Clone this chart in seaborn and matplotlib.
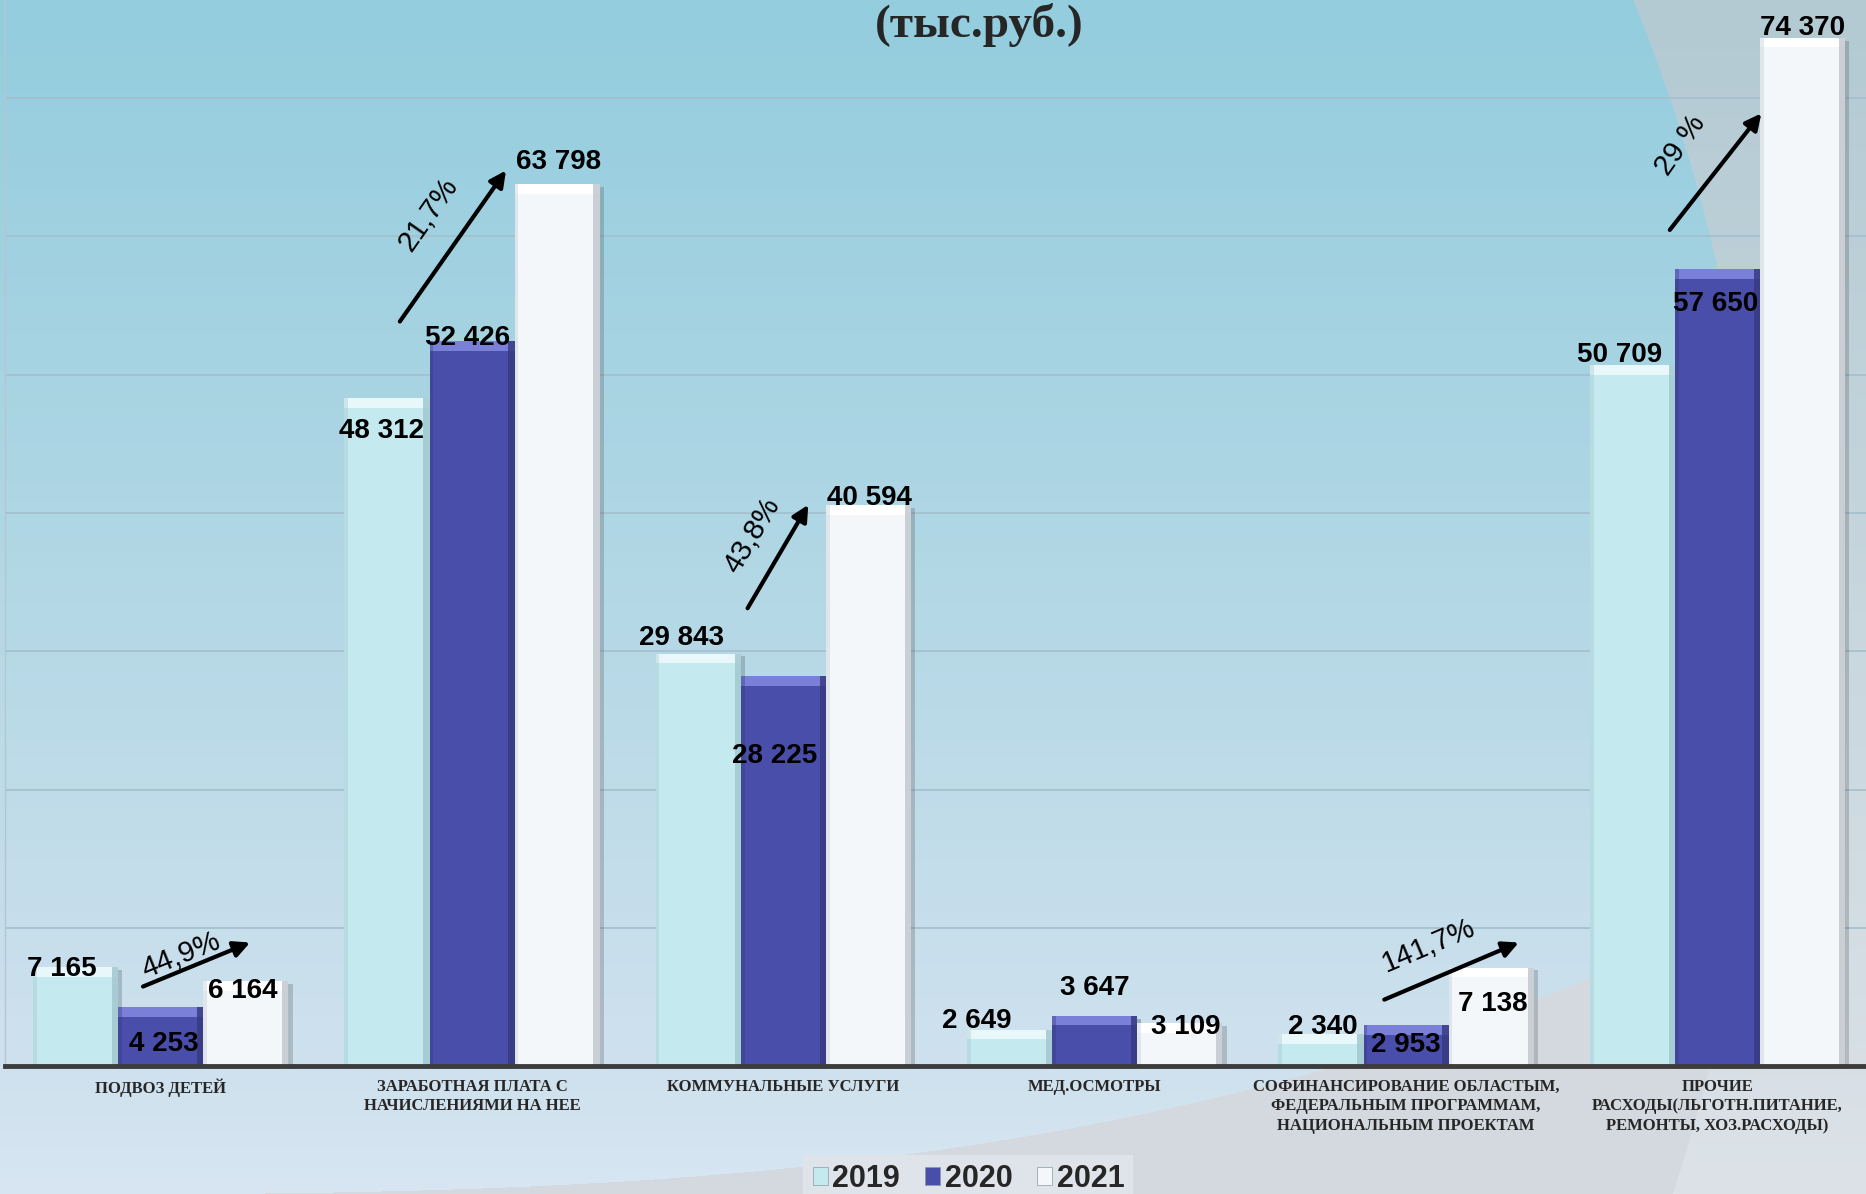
import numpy as np
import pandas as pd
import matplotlib
matplotlib.use('Agg')
import matplotlib.pyplot as plt
import matplotlib.patheffects as pe
from matplotlib.patches import Rectangle, Patch
from matplotlib.ticker import MultipleLocator
from matplotlib.font_manager import FontProperties
import seaborn as sns

# ---- data ----
categories = [
    'ПОДВОЗ ДЕТЕЙ',
    'ЗАРАБОТНАЯ ПЛАТА С\nНАЧИСЛЕНИЯМИ НА НЕЕ',
    'КОММУНАЛЬНЫЕ УСЛУГИ',
    'МЕД.ОСМОТРЫ',
    'СОФИНАНСИРОВАНИЕ ОБЛАСТЫМ,\nФЕДЕРАЛЬНЫМ ПРОГРАММАМ,\nНАЦИОНАЛЬНЫМ ПРОЕКТАМ',
    'ПРОЧИЕ\nРАСХОДЫ(ЛЬГОТН.ПИТАНИЕ,\nРЕМОНТЫ, ХОЗ.РАСХОДЫ)',
]
years = ['2019', '2020', '2021']
values_2019 = [7165, 48312, 29843, 2649, 2340, 50709]
values_2020 = [4253, 52426, 28225, 3647, 2953, 57650]
values_2021 = [6164, 63798, 40594, 3109, 7138, 74370]
growth_labels = ['44,9%', '21,7%', '43,8%', '141,7%', '29 %']

# ---- layout / style (not data) ----
colors = {'2019': '#C4E9EF', '2020': '#4A4EAB', '2021': '#F3F7FA'}
bevel_top = {'2019': '#E8F7F9', '2020': '#7A7FD8', '2021': '#FFFFFF'}
bevel_side = {'2019': '#9EC6CC', '2020': '#35387F', '2021': '#BFC6CC'}

# label centre offsets (points) from each bar top, per year
label_offsets = {
    '2019': [(-10, -1), (-4, -24), (-12, 11), (-24, 6), (1, 5), (-9, 7)],
    '2020': [(2, -26), (-3, 2), (-6, -58), (0, 20), (0, -14), (-1, -25)],
    '2021': [(-2, -7), (1, 16), (1, 5), (4, -3), (1, -26), (0, 7)],
}
# growth arrows: start, end, text position, text rotation
arrow_pos = [
    ((-0.057, 5763), (0.287, 8946), (0.065, 8000), 22),
    ((0.768, 53850), (1.109, 64774), (0.860, 61591), 55),
    ((1.885, 33118), (2.080, 40602), (1.900, 38366), 59),
    ((3.930, 4817), (4.362, 8946), (4.071, 8688), 23),
    ((4.847, 60473), (5.141, 68903), (4.881, 66581), 55),
]

df = pd.DataFrame({
    'category': categories * 3,
    'year': np.repeat(years, len(categories)),
    'value': values_2019 + values_2020 + values_2021,
})

sns.set_style('white')
plt.rcParams['font.family'] = ['Liberation Sans', 'DejaVu Sans']

W, H = 1866, 1194
fig = plt.figure(figsize=(W / 100, H / 100), dpi=100)

# ---- background ----
yy, xx = np.mgrid[0:H, 0:W].astype(float)
def vgrad(stops_y, stops_c):
    cols = np.array([matplotlib.colors.to_rgb(c) for c in stops_c])
    out = np.zeros((H, W, 3))
    for k in range(3):
        out[..., k] = np.interp(yy, stops_y, cols[:, k])
    return out

img = vgrad([0, 500, 1066, 1194], ['#93CDDE', '#AED6E4', '#CFE1EE', '#D7E6F2'])
right = vgrad([0, 1194], ['#B3CAD3', '#DCE2E8'])
swoosh = vgrad([0, 1194], ['#D3D9DF', '#D3D9DF'])
swoosh_mask = yy > 1194 - 194 * (xx / 1533) ** 3
arc_mask = ((xx - 33) ** 2 + (yy - 650) ** 2 > 1727 ** 2) & (xx > 1000)
img[swoosh_mask] = swoosh[swoosh_mask]
img[arc_mask] = right[arc_mask]

bg = fig.add_axes([0, 0, 1, 1])
bg.imshow(img, aspect='auto', extent=[0, 1, 0, 1], interpolation='bilinear')
bg.axis('off')

# ---- main chart ----
ax = fig.add_axes([0.0027, 0.107, 1.0011, 0.893])
ax.set_facecolor('none')
sns.barplot(data=df, x='category', y='value', hue='year', palette=colors,
            width=0.82, saturation=1, edgecolor='none', legend=False, ax=ax,
            zorder=2)

ax.set_xlim(-0.5, 5.5)
ax.set_ylim(0, 77100)
ax.yaxis.set_major_locator(MultipleLocator(10000))
ax.grid(axis='y', color='#A3BFCB', lw=1.2)
ax.set_axisbelow(True)
ax.tick_params(axis='y', left=False, labelleft=False)
ax.tick_params(axis='x', length=0, pad=9)
ax.set_xticks(range(len(categories)))
ax.set_xticklabels(categories, fontsize=12, fontweight='bold',
                   family='Liberation Serif', linespacing=1.3)
ax.set_xlabel('')
ax.set_ylabel('')
for s in ['top', 'right']:
    ax.spines[s].set_visible(False)
ax.spines['bottom'].set_color('#3C3C3C')
ax.spines['bottom'].set_linewidth(3.5)
ax.spines['bottom'].set_zorder(6)
ax.spines['left'].set_color('#B5C6D0')
ax.spines['left'].set_linewidth(1)

# bevel + labels
for year, cont in zip(years, ax.containers):
    for bar, off in zip(cont, label_offsets[year]):
        x0, w, h = bar.get_x(), bar.get_width(), bar.get_height()
        bar.set_path_effects([pe.SimplePatchShadow(offset=(3, -2), alpha=0.25), pe.Normal()])
        th = min(700, h * 0.35)
        sw = 0.02
        ax.add_patch(Rectangle((x0, h - th), w, th, color=bevel_top[year], zorder=3, lw=0))
        ax.add_patch(Rectangle((x0 + w - sw, 0), sw, h, color=bevel_side[year], zorder=3, lw=0, alpha=0.8))
        ax.add_patch(Rectangle((x0, 0), sw * 0.6, h, color=bevel_side[year], zorder=3, lw=0, alpha=0.35))
        ax.annotate(f'{int(h):,}'.replace(',', ' '), (x0 + w / 2, h), xytext=off,
                    textcoords='offset points', ha='center', va='center',
                    fontsize=20, fontweight='bold', color='black', zorder=7)

# growth arrows
for txt, (start, end, tpos, rot) in zip(growth_labels, arrow_pos):
    ax.annotate('', xy=end, xytext=start,
                arrowprops=dict(arrowstyle='-|>', lw=3, color='black',
                                mutation_scale=24, shrinkA=0, shrinkB=0),
                zorder=7)
    ax.text(tpos[0], tpos[1], txt, rotation=rot, rotation_mode='anchor',
            ha='center', va='center', fontsize=21, color='black', zorder=7)

# title
fig.text(0.525, 0.969, '(тыс.руб.)', ha='center', va='baseline', fontsize=34,
         fontweight='bold', family='Liberation Serif')

# legend
handles = [Patch(facecolor=colors[y], edgecolor='#8A9AA5', lw=0.5) for y in years]
leg = fig.legend(handles, years, loc='center', bbox_to_anchor=(0.519, 0.0126),
                 ncol=3, frameon=True, fancybox=False,
                 prop=FontProperties(family='Liberation Sans', weight='bold', size=22),
                 handlelength=0.5, handleheight=0.5, handletextpad=0.15,
                 columnspacing=0.8, borderpad=0.3)
leg.get_frame().set_facecolor('#DEE4E9')
leg.get_frame().set_edgecolor('none')
leg.get_frame().set_alpha(1)

fig.savefig('out.png', dpi=100)
